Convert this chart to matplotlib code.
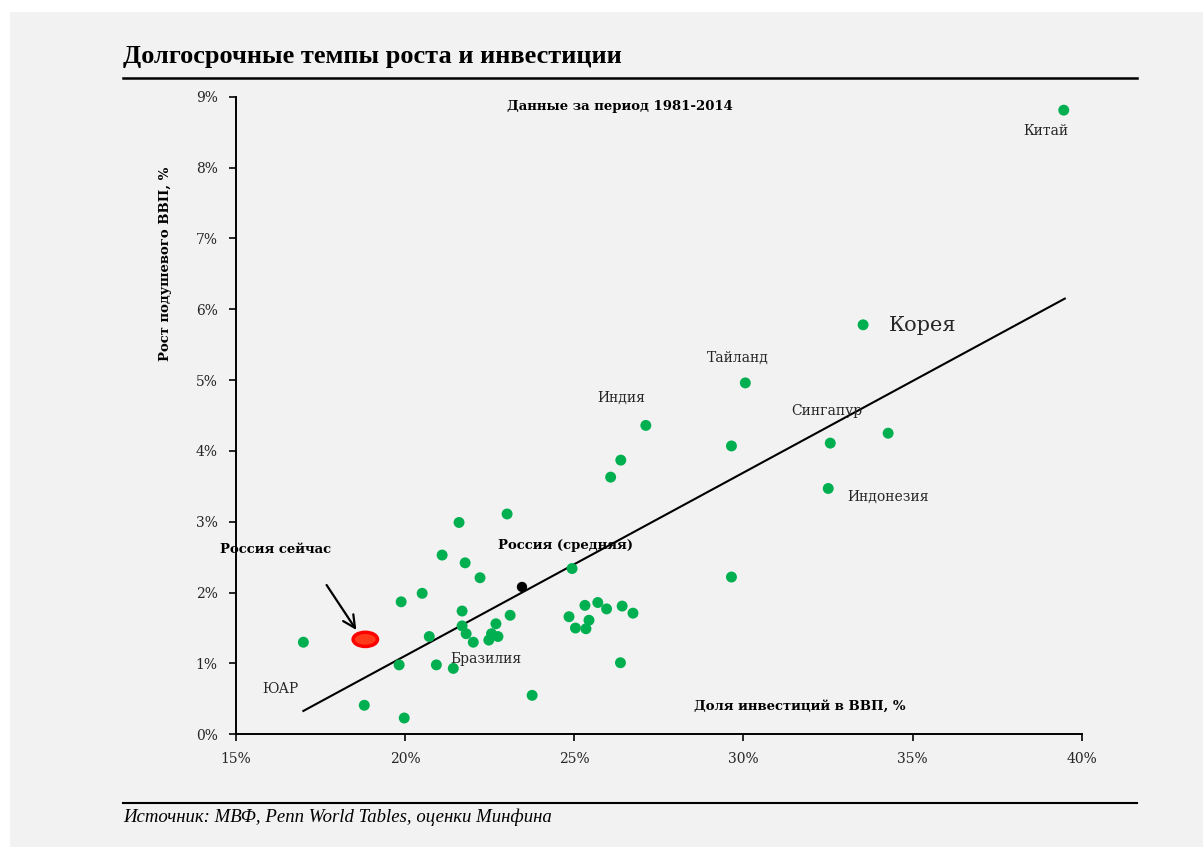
import matplotlib.pyplot as plt
from matplotlib.patches import Ellipse, Rectangle
from matplotlib.ticker import FuncFormatter

# Investment share of GDP (%), per-capita GDP growth (%), 1981-2014
invest = [39.47, 33.54, 30.06, 27.12, 29.65, 26.38, 26.08, 32.57, 34.28, 32.51,
          29.65, 24.94, 23.02, 21.60, 21.10, 21.78, 22.22, 20.51, 19.89, 21.69,
          21.69, 21.81, 22.02, 22.69, 23.11, 22.56, 22.75, 22.48, 20.72, 20.93,
          21.43, 19.83, 17.00, 18.80, 19.98, 23.76, 24.85, 25.32, 25.70, 25.96,
          25.44, 25.04, 25.35, 26.42, 26.74, 26.37]
growth = [8.81, 5.78, 4.96, 4.36, 4.07, 3.87, 3.63, 4.11, 4.25, 3.47,
          2.22, 2.34, 3.11, 2.99, 2.53, 2.42, 2.21, 1.99, 1.87, 1.74,
          1.53, 1.42, 1.30, 1.56, 1.68, 1.42, 1.38, 1.33, 1.38, 0.98,
          0.93, 0.98, 1.30, 0.41, 0.23, 0.55, 1.66, 1.82, 1.86, 1.77,
          1.61, 1.50, 1.49, 1.81, 1.71, 1.01]

russia_avg = (23.46, 2.08)
russia_now = (18.83, 1.34)

trend_x = [17.0, 39.5]
trend_y = [0.33, 6.15]

labels = ["Китай", "Тайланд", "Индия", "Сингапур", "Индонезия", "Бразилия", "ЮАР"]
label_x = [38.95, 29.85, 26.39, 32.47, 34.27, 22.39, 16.31]
label_y = [8.51, 5.31, 4.75, 4.56, 3.35, 1.06, 0.64]

x_ticks = [15, 20, 25, 30, 35, 40]
y_ticks = [0, 1, 2, 3, 4, 5, 6, 7, 8, 9]

GREEN = "#00b050"
SERIF = "DejaVu Serif"
TITLE_FONT = "Liberation Serif"

fig = plt.figure(figsize=(12.03, 8.47), dpi=100)
fig.patch.set_facecolor("white")
fig.patches.append(Rectangle((10 / 1203, 0), 1, 1 - 12 / 847, transform=fig.transFigure,
                             facecolor="#f2f2f2", edgecolor="none", zorder=-10))

# title and source with rules
fig.text(123 / 1203, 1 - 56 / 847, "Долгосрочные темпы роста и инвестиции",
         family=TITLE_FONT, fontweight="bold", fontsize=19, va="center", ha="left")
fig.add_artist(plt.Line2D([123 / 1203, 1137 / 1203], [1 - 78 / 847] * 2,
                          transform=fig.transFigure, color="black", lw=1.8))
fig.add_artist(plt.Line2D([123 / 1203, 1137 / 1203], [1 - 803 / 847] * 2,
                          transform=fig.transFigure, color="black", lw=1.5))
fig.text(123 / 1203, 1 - 817 / 847, "Источник: МВФ, Penn World Tables, оценки Минфина",
         family=TITLE_FONT, style="italic", fontsize=13.5, va="center", ha="left")

ax = fig.add_axes([235.7 / 1203, 1 - 734.3 / 847, (1081.7 - 235.7) / 1203, (734.3 - 96.7) / 847])
ax.set_facecolor("none")
ax.set_xlim(15, 40)
ax.set_ylim(0, 9)
for side in ("top", "right"):
    ax.spines[side].set_visible(False)
for side in ("left", "bottom"):
    ax.spines[side].set_linewidth(1.4)
ax.set_xticks(x_ticks)
ax.set_yticks(y_ticks)
ax.xaxis.set_major_formatter(FuncFormatter(lambda v, p: f"{v:.0f}%"))
ax.yaxis.set_major_formatter(FuncFormatter(lambda v, p: f"{v:.0f}%"))
ax.tick_params(direction="out", length=5, width=1.4, labelsize=10, colors="#262626", pad=8)
for lab in ax.get_xticklabels() + ax.get_yticklabels():
    lab.set_family(SERIF)

ax.plot(trend_x, trend_y, color="black", lw=1.5, zorder=2)
ax.scatter(invest, growth, s=62, color=GREEN, edgecolors="none", zorder=3, clip_on=False)
ax.scatter([russia_avg[0]], [russia_avg[1]], s=55, color="black", edgecolors="none", zorder=4)
ax.add_patch(Ellipse(russia_now, 0.72, 0.2, facecolor="#ff3a1a", edgecolor="#ff0000", lw=2.5, zorder=4))

ax.annotate("", xy=(18.61, 1.44), xytext=(17.64, 2.14),
            arrowprops=dict(arrowstyle="->", lw=1.6, color="black", mutation_scale=22))

for name, lx, ly in zip(labels, label_x, label_y):
    ax.text(lx, ly, name, family=SERIF, fontsize=10, color="#262626", ha="center", va="center")
ax.text(34.3, 5.77, "Корея", family=SERIF, fontsize=15, color="#262626", ha="left", va="center")

bold = dict(family=SERIF, fontweight="bold", fontsize=9.5, color="black", va="center")
ax.text(26.34, 8.86, "Данные за период 1981-2014", ha="center", **bold)
ax.text(16.19, 2.61, "Россия сейчас", ha="center", **bold)
ax.text(24.74, 2.66, "Россия (средняя)", ha="center", **bold)
ax.text(31.67, 0.40, "Доля инвестиций в ВВП, %", ha="center", **bold)

fig.text(166 / 1203, 1 - 264 / 847, "Рост подушевого ВВП, %", rotation=90,
         family=SERIF, fontweight="bold", fontsize=9.5, ha="center", va="center")

fig.savefig("out.png", dpi=100)
